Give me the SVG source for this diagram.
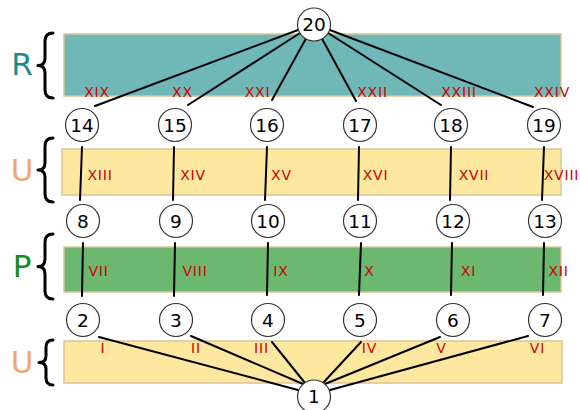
<svg xmlns="http://www.w3.org/2000/svg" width="580" height="410" viewBox="0 0 580 410">
  <style>
    .band { stroke: #d8c596; stroke-width: 1.5; }
    .r-band { fill: #70b8b8; }
    .u-band { fill: #fee8a0; }
    .p-band { fill: #6db870; }
    .brace { fill: none; stroke: #000; stroke-width: 3; stroke-linecap: round; stroke-linejoin: round; }
    .side { font-family: "DejaVu Sans", Verdana, sans-serif; font-size: 31px; text-anchor: middle; }
    .edge { stroke: #000; stroke-width: 2; fill: none; stroke-linecap: round; }
    .lbl { font-family: "DejaVu Sans", Verdana, sans-serif; font-size: 14px; letter-spacing: 0.8px; fill: #cc0000; text-anchor: middle; }
    .node circle { fill: #fff; stroke: #333; stroke-width: 1.2; }
    .node text { font-family: "DejaVu Sans", Verdana, sans-serif; font-size: 18.5px; fill: #000; text-anchor: middle; }
  </style>

  <!-- layer bands -->
  <g id="bands">
    <rect class="band r-band" x="64" y="34" width="497" height="62"/>
    <rect class="band u-band" x="62" y="149" width="499" height="46"/>
    <rect class="band p-band" x="64" y="247" width="497" height="45"/>
    <rect class="band u-band" x="64" y="341" width="498" height="42"/>
  </g>

  <!-- layer captions with braces -->
  <g id="captions">
    <text class="side" x="22" y="75" fill="#1a8a8a">R</text>
    <path class="brace" d="M53,33 Q45,33 45,41 L45,58 Q45,65.5 38,65.5 Q45,65.5 45,73 L45,90 Q45,98 53,98"/>
    <text class="side" x="22" y="181" fill="#f2a46a">U</text>
    <path class="brace" d="M53,138 Q45,138 45,146 L45,163 Q45,170 38,170 Q45,170 45,177 L45,194 Q45,202 53,202"/>
    <text class="side" x="22" y="277" fill="#1a8c1a">P</text>
    <path class="brace" d="M53,234 Q45,234 45,242 L45,259 Q45,266.5 38,266.5 Q45,266.5 45,274 L45,291 Q45,299 53,299"/>
    <text class="side" x="22" y="373" fill="#f2a46a">U</text>
    <path class="brace" d="M53,340 Q46,340 46,347 L46,356 Q46,362.5 39,362.5 Q46,362.5 46,369 L46,378 Q46,385 53,385"/>
  </g>

  <!-- connectors -->
  <g id="connectors">
    <line class="edge" x1="314" y1="24" x2="95" y2="106"/>
    <line class="edge" x1="314" y1="24" x2="188" y2="105"/>
    <line class="edge" x1="314" y1="24" x2="272" y2="100"/>
    <line class="edge" x1="314" y1="24" x2="356" y2="101"/>
    <line class="edge" x1="314" y1="24" x2="441" y2="105"/>
    <line class="edge" x1="314" y1="24" x2="533" y2="107"/>

    <line class="edge" x1="82" y1="147" x2="80" y2="200"/>
    <line class="edge" x1="174" y1="147" x2="173" y2="200"/>
    <line class="edge" x1="267" y1="147" x2="265" y2="200"/>
    <line class="edge" x1="359" y1="147" x2="358" y2="200"/>
    <line class="edge" x1="451" y1="147" x2="450" y2="200"/>
    <line class="edge" x1="544" y1="147" x2="542" y2="200"/>

    <line class="edge" x1="83" y1="243" x2="82" y2="296"/>
    <line class="edge" x1="175" y1="243" x2="174" y2="296"/>
    <line class="edge" x1="268" y1="243" x2="267" y2="295"/>
    <line class="edge" x1="361" y1="243" x2="359" y2="295"/>
    <line class="edge" x1="452" y1="243" x2="451" y2="295"/>
    <line class="edge" x1="544" y1="243" x2="543" y2="295"/>

    <line class="edge" x1="99" y1="337" x2="298" y2="390"/>
    <line class="edge" x1="191" y1="336" x2="303" y2="384"/>
    <line class="edge" x1="272" y1="342" x2="305" y2="383"/>
    <line class="edge" x1="361" y1="342" x2="323" y2="383"/>
    <line class="edge" x1="440" y1="337" x2="325" y2="384"/>
    <line class="edge" x1="528" y1="336" x2="330" y2="390"/>
  </g>

  <!-- connector labels -->
  <g id="edge-labels">
    <text class="lbl" x="97" y="97">XIX</text>
    <text class="lbl" x="182.5" y="97">XX</text>
    <text class="lbl" x="257.5" y="97">XXI</text>
    <text class="lbl" x="372.5" y="97">XXII</text>
    <text class="lbl" x="459" y="97">XXIII</text>
    <text class="lbl" x="552" y="97">XXIV</text>

    <text class="lbl" x="100" y="180">XIII</text>
    <text class="lbl" x="193" y="180">XIV</text>
    <text class="lbl" x="281.5" y="180">XV</text>
    <text class="lbl" x="375.5" y="180">XVI</text>
    <text class="lbl" x="474" y="180">XVII</text>
    <text class="lbl" x="561.5" y="180">XVIII</text>

    <text class="lbl" x="98.5" y="276">VII</text>
    <text class="lbl" x="195" y="276">VIII</text>
    <text class="lbl" x="281" y="276">IX</text>
    <text class="lbl" x="369.5" y="276">X</text>
    <text class="lbl" x="468.5" y="276">XI</text>
    <text class="lbl" x="558.5" y="276">XII</text>

    <text class="lbl" x="103" y="353">I</text>
    <text class="lbl" x="196" y="353">II</text>
    <text class="lbl" x="261.5" y="353">III</text>
    <text class="lbl" x="369.5" y="353">IV</text>
    <text class="lbl" x="441.5" y="353">V</text>
    <text class="lbl" x="537.5" y="353">VI</text>
  </g>

  <!-- nodes -->
  <g id="n20" class="node"><circle cx="314" cy="24.5" r="16.5"/><text x="314" y="31">20</text></g>

  <g id="n14" class="node"><circle cx="82" cy="125" r="16.5"/><text x="82" y="131.5">14</text></g>
  <g id="n15" class="node"><circle cx="175" cy="125" r="16.5"/><text x="175" y="131.5">15</text></g>
  <g id="n16" class="node"><circle cx="267" cy="125" r="16.5"/><text x="267" y="131.5">16</text></g>
  <g id="n17" class="node"><circle cx="360" cy="125" r="16.5"/><text x="360" y="131.5">17</text></g>
  <g id="n18" class="node"><circle cx="451" cy="125" r="16.5"/><text x="451" y="131.5">18</text></g>
  <g id="n19" class="node"><circle cx="544" cy="125" r="16.5"/><text x="544" y="131.5">19</text></g>

  <g id="n8" class="node"><circle cx="83" cy="221" r="16.5"/><text x="83" y="227.5">8</text></g>
  <g id="n9" class="node"><circle cx="176" cy="221" r="16.5"/><text x="176" y="227.5">9</text></g>
  <g id="n10" class="node"><circle cx="268" cy="221" r="16.5"/><text x="268" y="227.5">10</text></g>
  <g id="n11" class="node"><circle cx="360" cy="221" r="16.5"/><text x="360" y="227.5">11</text></g>
  <g id="n12" class="node"><circle cx="453" cy="221" r="16.5"/><text x="453" y="227.5">12</text></g>
  <g id="n13" class="node"><circle cx="545" cy="221" r="16.5"/><text x="545" y="227.5">13</text></g>

  <g id="n2" class="node"><circle cx="83" cy="320" r="16.5"/><text x="83" y="326.5">2</text></g>
  <g id="n3" class="node"><circle cx="176" cy="320" r="16.5"/><text x="176" y="326.5">3</text></g>
  <g id="n4" class="node"><circle cx="268" cy="320" r="16.5"/><text x="268" y="326.5">4</text></g>
  <g id="n5" class="node"><circle cx="360" cy="320" r="16.5"/><text x="360" y="326.5">5</text></g>
  <g id="n6" class="node"><circle cx="453" cy="320" r="16.5"/><text x="453" y="326.5">6</text></g>
  <g id="n7" class="node"><circle cx="545" cy="320" r="16.5"/><text x="545" y="326.5">7</text></g>

  <g id="n1" class="node"><circle cx="314" cy="396.5" r="16.5"/><text x="314" y="403">1</text></g>
</svg>
